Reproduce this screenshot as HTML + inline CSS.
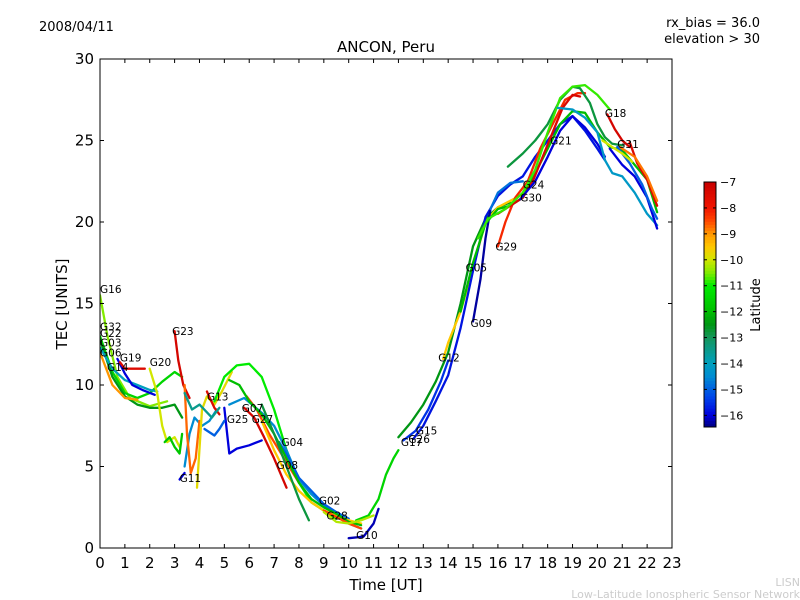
<!DOCTYPE html>
<html><head><meta charset="utf-8"><style>
body{margin:0;background:#fff;}
svg{display:block;font-family:"DejaVu Sans","Liberation Sans",sans-serif;}
</style></head><body>
<svg id="c" width="800" height="600" viewBox="0 0 800 600">
<rect width="800" height="600" fill="#fff"/>
<text x="39" y="31" font-size="13">2008/04/11</text>
<text x="760" y="27" font-size="13" text-anchor="end">rx_bias = 36.0</text>
<text x="760" y="43" font-size="13" text-anchor="end">elevation &gt; 30</text>
<text x="386" y="52" font-size="15" text-anchor="middle">ANCON, Peru</text>
<text x="386" y="590" font-size="15" text-anchor="middle">Time [UT]</text>
<text x="67" y="304" font-size="15" text-anchor="middle" transform="rotate(-90 67 304)">TEC [UNITS]</text>
<text x="800" y="586" font-size="11" fill="#ccc" text-anchor="end">LISN</text>
<text x="800" y="598" font-size="11" fill="#ccc" text-anchor="end">Low-Latitude Ionospheric Sensor Network</text>
<g id="plot"></g>
<g id="axes"></g>
<g id="cbar"></g>
</svg>
<script>
const xTicks=[0,1,2,3,4,5,6,7,8,9,10,11,12,13,14,15,16,17,18,19,20,21,22,23];
const yTicks=[0,5,10,15,20,25,30];
const cbTicks=[-7,-8,-9,-10,-11,-12,-13,-14,-15,-16];
const latMin=-16.45, latMax=-7;
const satNames=["G16","G32","G22","G03","G06","G14","G19","G20","G20b","G23","G11","G11b","Gor","Gye","G13","G25","G13b","G13c","Glh","Gcy","G07","G27","G04","G08","G02","G28","G10","Grec","Gm1","Gm2",
"G17","G26","G12","G15","G09","G05","G29","G24","Gdg","Glm","G30","Gcy2","Gcy3","G18","G31","G31o","G31b","G31c","G31y"];
const satLats=[-10.5,-11.5,-12.5,-14,-9,-16,-7.5,-10,-11.8,-7.3,-16,-14.5,-8.7,-9.8,-7.5,-16,-15,-13.5,-11,-14.5,-7.3,-8.5,-15,-9.5,-12,-8.5,-16.2,-11.5,-12.8,-10.2,
-12.5,-15.5,-9.5,-15.8,-16.3,-12,-8.2,-7.4,-12.8,-10.8,-16,-14.8,-14.2,-7.3,-7.5,-8.8,-16,-15,-10];
const satData=[
[[0,15.5],[0.3,13],[0.7,10.5],[1.2,9.2],[2,8.7],[2.7,9.0]],
[[0,13],[0.5,10.8],[1,9.5],[1.5,9.2],[2,9.5],[2.5,10.2],[3,10.8],[3.3,10.5]],
[[0,12.8],[0.5,10.5],[1,9.3],[1.5,8.8],[2,8.6],[2.5,8.6],[3,8.8],[3.3,8]],
[[0,12.3],[0.5,11],[1,10.3],[1.5,10],[2,9.7],[2.3,9.6]],
[[0,12],[0.5,10],[1,9.2],[1.5,9.1]],
[[0.7,11.6],[1,10.7],[1.3,10],[1.7,9.7],[2.2,9.4]],
[[0.8,11.4],[1,11],[1.8,11]],
[[2,11],[2.3,9.5],[2.5,7.5],[2.7,6.5],[3,6.8],[3.2,6.2]],
[[2.6,6.5],[2.8,6.8],[3,6.2],[3.2,5.8],[3.3,7]],
[[3,13.3],[3.15,11.5],[3.35,10],[3.6,9.2]],
[[3.2,4.2],[3.4,4.6]],
[[3.4,5],[3.6,7],[3.8,8],[4.1,7.5],[4.4,7.8],[4.7,8.5]],
[[3.4,10],[3.5,7],[3.65,4.6],[3.85,5.5],[4,7.8]],
[[3.9,3.7],[4.1,8.5],[4.3,9.3],[4.6,8.8],[4.9,9.6],[5.3,10.8]],
[[4.3,9.6],[4.6,8.6],[4.8,8.2]],
[[5,8.6],[5.2,5.8],[5.5,6.1],[6,6.3],[6.5,6.6]],
[[4.2,7.3],[4.6,6.9],[4.8,7.3],[5,7.8]],
[[3.4,9.5],[3.7,8.5],[4,8.8],[4.5,8],[4.8,8.6]],
[[4.6,9],[5,10.5],[5.5,11.2],[6,11.3],[6.5,10.5],[7,8.5],[7.5,6],[8,4],[8.5,2.8],[9,2.3],[9.5,1.8]],
[[5.2,8.8],[5.8,9.2],[6.5,8.3],[7,7.5],[7.5,6],[8,4.2],[8.5,3.3],[9,2.6],[10,1.5],[10.5,1.2]],
[[5.8,8.6],[6.2,8],[6.6,6.8],[7,5.5],[7.5,3.7]],
[[5.9,9.3],[6.3,8.5],[6.8,7],[7.2,6],[7.6,5],[8,4]],
[[7.2,6.5],[7.6,5.5],[8,4.3],[8.5,3.5],[9,2.7],[9.5,2.2],[10,1.8]],
[[6.5,7.8],[7,6],[7.5,4.5],[8,3.5],[8.5,2.8],[9,2.3],[10,1.7],[10.5,1.5]],
[[5.2,10.3],[5.6,10],[6,9],[6.5,8.2],[7,7],[7.5,5.5],[8,4],[8.5,3],[9,2.5],[9.5,2.1],[10,1.6],[10.5,1.4]],
[[9,2.3],[9.5,1.9],[10,1.5],[10.5,1.2]],
[[10,0.6],[10.6,0.7],[11,1.5],[11.2,2.4]],
[[10.3,1.7],[10.8,2],[11.2,3],[11.5,4.5],[11.8,5.5],[12,6]],
[[6.5,8.8],[7,7],[7.5,5],[8,3],[8.4,1.7]],
[[9,2.2],[9.5,1.6],[10,1.5],[10.5,1.7],[11,2]],
[[12,6.8],[12.5,7.7],[13,8.8],[13.5,10.2],[14,12],[14.5,15],[15,18.5],[15.5,20.2],[16,20.9],[16.5,21.2]],
[[12.2,6.6],[12.7,7.2],[13.2,8.5],[13.7,10.2],[14,11.5]],
[[13.8,11.6],[14,12.6],[14.5,14.5],[15,17.2],[15.5,20],[16,20.9],[16.5,21.3],[17,21.7]],
[[12.6,6.7],[13,7.5],[13.5,9],[14,10.6],[14.5,13.5],[15,17],[15.5,20.3],[16,21.6],[16.5,22.3],[17,22.8],[17.5,24],[18,25],[18.5,26],[19,26.5],[19.5,25.6],[20,24.5],[20.3,23.8]],
[[15,13.9],[15.3,16.5],[15.5,19],[15.7,20.8]],
[[14.5,14.5],[15,17.5],[15.5,19.9],[16,20.8],[16.5,21],[17,21.5],[17.5,23],[18,24.5],[18.5,26],[19,26.8],[19.5,26.7],[20,25.5],[20.5,24.6],[21,24.4],[21.5,23.5],[22,22.6],[22.4,20.6]],
[[16,18.5],[16.3,20],[16.7,21.5],[17.2,22.5],[17.7,24.5],[18.2,26],[18.7,27.5],[19.2,27.9],[19.5,27.9]],
[[16,20.5],[16.5,21],[17,21.5],[17.4,22.5],[17.8,24],[18.2,25.5],[18.6,27],[19,27.8],[19.3,27.7]],
[[16.4,23.4],[17,24.2],[17.5,25],[18,26],[18.5,27.5],[19,28.3],[19.3,28.2],[19.7,27.3],[20,26],[20.3,25.2],[20.6,24.8],[21,24.7]],
[[15.2,19],[15.6,20.2],[16.3,20.8],[17,21.8],[17.5,23.2],[18,25.5],[18.5,27.6],[19,28.3],[19.5,28.4],[20,27.8],[20.5,26.9]],
[[16.9,21.4],[17.5,22.5],[18,24],[18.5,25.6],[19,26.5],[19.5,25.8],[20,24.8],[20.3,24]],
[[15.7,20.8],[16,21.8],[16.5,22.4],[17,22.5]],
[[18.4,27],[19,26.9],[19.5,26.4],[20,25.5],[20.3,23.8],[20.6,23],[21,22.8],[21.5,21.8],[22,20.5],[22.4,19.8]],
[[20.4,26.6],[20.7,25.7],[21,25],[21.3,24.6]],
[[21.3,24.9],[21.6,23.6],[22,22.6],[22.4,21]],
[[20.9,24.6],[21.5,24],[22,22.8],[22.4,21.3]],
[[20.5,24.5],[21,23.5],[21.5,22.8],[22,21.5],[22.4,19.6]],
[[20.8,24.6],[21.3,23.6],[21.8,22.3],[22.2,20.8],[22.4,20.2]],
[[20.2,25],[20.7,24.5],[21,24.2],[21.4,23.7]]
];
const labelText=["G16","G32","G22","G03","G06","G14","G19","G20","G23","G13","G11","G25","G07","G27","G04","G08","G02","G28","G10","G17","G26","G15","G12","G09","G05","G29","G24","G30","G21","G18","G31"];
const labelT=[0,0,0,0,0,0.28,0.8,2,2.9,4.3,3.2,5.1,5.7,6.1,7.3,7.1,8.8,9.1,10.3,12.1,12.4,12.7,13.6,14.9,14.7,15.9,17,16.9,18.1,20.3,20.8];
const labelV=[15.9,13.6,13.2,12.6,12.0,11.1,11.7,11.4,13.3,9.3,4.3,7.9,8.6,7.9,6.5,5.1,2.9,2.0,0.8,6.5,6.7,7.2,11.7,13.8,17.2,18.5,22.3,21.5,25.0,26.7,24.8];

const X0=100,X1=672,Y0=548,Y1=59;
const sx=t=>X0+(t-0)/(23-0)*(X1-X0);
const sy=v=>Y0-(v-0)/(30-0)*(Y0-Y1);
const NS="http://www.w3.org/2000/svg";
function mk(tag,attrs,parent){const e=document.createElementNS(NS,tag);for(const k in attrs)e.setAttribute(k,attrs[k]);parent.appendChild(e);return e;}
const cmapStops=[[-16.45,[0,0,130]],[-16,[0,0,220]],[-15.3,[0,70,235]],[-14.5,[0,140,210]],[-14,[0,160,190]],[-13,[20,150,90]],[-12.5,[0,150,20]],[-12,[0,190,0]],[-11,[0,235,0]],[-10.5,[130,235,0]],[-10,[210,230,0]],[-9.5,[255,200,0]],[-9,[255,150,0]],[-8.5,[255,70,0]],[-8,[240,20,0]],[-7,[200,0,0]]];
function latCol(l){
 if(l<=cmapStops[0][0])return `rgb(${cmapStops[0][1]})`;
 for(let i=1;i<cmapStops.length;i++){if(l<=cmapStops[i][0]){const a=cmapStops[i-1],b=cmapStops[i],f=(l-a[0])/(b[0]-a[0]);
   return `rgb(${a[1].map((c,k)=>Math.round(c+(b[1][k]-c)*f)).join(',')})`;}}
 return `rgb(${cmapStops[cmapStops.length-1][1]})`;}
const plot=document.getElementById('plot'),axes=document.getElementById('axes'),cbar=document.getElementById('cbar');
const cp=mk('clipPath',{id:'clp'},plot);mk('rect',{x:X0,y:Y1,width:X1-X0,height:Y0-Y1},cp);
const lg=mk('g',{'clip-path':'url(#clp)'},plot);
satData.forEach((pts,i)=>{
 const p=mk('polyline',{points:pts.map(d=>sx(d[0]).toFixed(1)+','+sy(d[1]).toFixed(1)).join(' '),fill:'none',stroke:latCol(satLats[i]),'stroke-width':2.3,'stroke-linejoin':'round','stroke-linecap':'round'},lg);
 
 
});
labelText.forEach((s,i)=>{
 const t=mk('text',{x:sx(labelT[i]),y:sy(labelV[i])+4,'font-size':10.5},plot);t.textContent=s;
 
 
});
const fr=mk('rect',{x:X0,y:Y1,width:X1-X0,height:Y0-Y1,fill:'none',stroke:'#000','stroke-width':1},axes);


xTicks.forEach(t=>{const x=sx(t);
 mk('line',{x1:x,x2:x,y1:Y0,y2:Y0-4,stroke:'#000'},axes);mk('line',{x1:x,x2:x,y1:Y1,y2:Y1+4,stroke:'#000'},axes);
 const tx=mk('text',{x:x,y:Y0+20,'font-size':15,'text-anchor':'middle'},axes);tx.textContent=t;
 
 });
yTicks.forEach(v=>{const y=sy(v);
 mk('line',{x1:X0,x2:X0+4,y1:y,y2:y,stroke:'#000'},axes);mk('line',{x1:X1,x2:X1-4,y1:y,y2:y,stroke:'#000'},axes);
 const tx=mk('text',{x:X0-6,y:y+5,'font-size':15,'text-anchor':'end'},axes);tx.textContent=v;
 
 });
const CX=704,CW=12,CT=182,CB=427;
const cy=l=>CT+(latMax-l)/(latMax-latMin)*(CB-CT);
for(let i=0;i<80;i++){const l0=latMax-(latMax-latMin)*i/80,l1=latMax-(latMax-latMin)*(i+1)/80;
 mk('rect',{x:CX,y:cy(l0),width:CW,height:cy(l1)-cy(l0)+0.5,fill:latCol((l0+l1)/2)},cbar);}
const cbf=mk('rect',{x:CX,y:CT,width:CW,height:CB-CT,fill:'none',stroke:'#000'},cbar);


cbTicks.forEach(l=>{const y=cy(l);
 mk('line',{x1:CX+CW-3,x2:CX+CW,y1:y,y2:y,stroke:'#000'},cbar);
 mk('line',{x1:CX,x2:CX+3,y1:y,y2:y,stroke:'#000'},cbar);
 const tx=mk('text',{x:CX+CW+4,y:y+4,'font-size':11},cbar);tx.textContent='\u2212'+Math.abs(l);
 
 });
const ct=mk('text',{x:760,y:305,'font-size':13,'text-anchor':'middle',transform:'rotate(-90 760 305)'},cbar);ct.textContent='Latitude';


</script>
</body></html>
